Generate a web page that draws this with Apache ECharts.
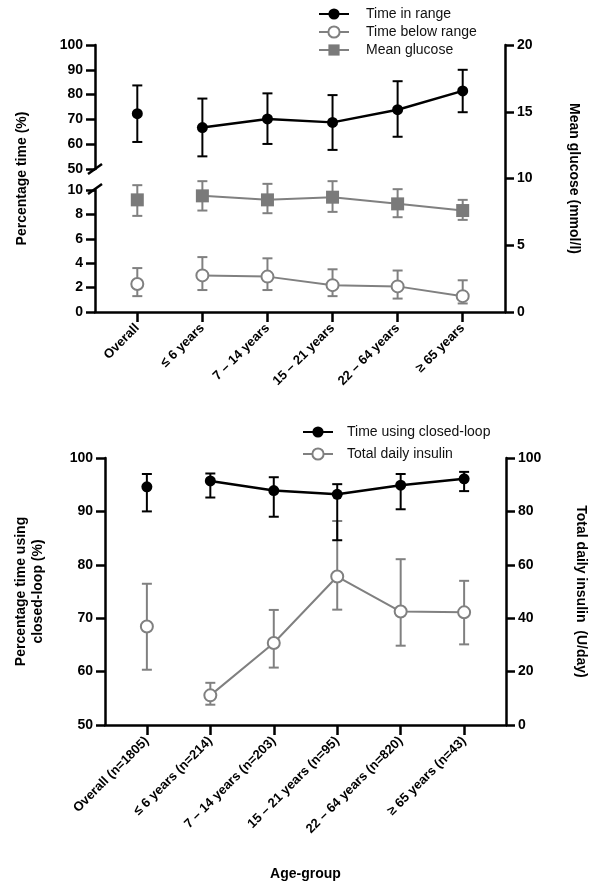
<!DOCTYPE html>
<html>
<head>
<meta charset="utf-8">
<script src="https://cdn.jsdelivr.net/npm/echarts@6/dist/echarts.min.js"></script>
<style>
  html, body { margin: 0; padding: 0; background: #fff; }
  #chart { width: 596px; height: 889px; }
</style>
</head>
<body>
<div id="chart"></div>
<script>
// top panel
var topCats = ['Overall', '≤ 6 years', '7 – 14 years', '15 – 21 years', '22 – 64 years', '≥ 65 years'];
var tirMid = [72.3, 66.7, 70.2, 68.8, 73.9, 81.5];
var tirLow = [60.9, 55.1, 60.1, 57.7, 63.0, 72.9];
var tirHigh = [83.7, 78.4, 80.5, 79.8, 85.4, 90.0];
var tbrMid = [2.3, 3.0, 2.9, 2.2, 2.1, 1.3];
var tbrLow = [1.3, 1.8, 1.8, 1.3, 1.1, 0.7];
var tbrHigh = [3.6, 4.5, 4.4, 3.5, 3.4, 2.6];
var glucMid = [8.4, 8.7, 8.4, 8.6, 8.1, 7.6];
var glucLow = [7.2, 7.6, 7.4, 7.5, 7.1, 6.9];
var glucHigh = [9.5, 9.8, 9.6, 9.8, 9.2, 8.4];

// bottom panel
var bottomCats = ['Overall (n=1805)', '≤ 6 years (n=214)', '7 – 14 years (n=203)', '15 – 21 years (n=95)', '22 – 64 years (n=820)', '≥ 65 years (n=43)'];
var clMid = [94.6, 95.7, 93.9, 93.2, 94.9, 96.1];
var clLow = [90.0, 92.6, 89.0, 84.6, 90.4, 93.8];
var clHigh = [97.0, 97.1, 96.4, 95.1, 97.0, 97.4];
var tdiMid = [36.9, 11.1, 30.7, 55.6, 42.5, 42.2];
var tdiLow = [20.7, 7.6, 21.5, 43.2, 29.7, 30.2];
var tdiHigh = [52.9, 15.8, 43.1, 76.4, 62.1, 54.0];

var FONT = '"Liberation Sans", Arial, sans-serif';
var BLACK = '#000';
var GREY = '#808080';
var catIdx = [0, 1, 2, 3, 4, 5];

var myChart = echarts.init(document.getElementById('chart'));

function pts(arr, from, to) {
    var out = [];
    for (var i = from; i <= to; i++) out.push([i, arr[i]]);
    return out;
}
function bars(lo, hi) {
    return lo.map(function (v, i) { return [i, v, hi[i]]; });
}
function errBar(params, api) {
    var x = api.value(0);
    var p1 = api.coord([x, api.value(2)]);
    var p2 = api.coord([x, api.value(1)]);
    var w = 5;
    var st = { stroke: api.visual('color'), lineWidth: 2 };
    return {
        type: 'group',
        children: [
            { type: 'line', shape: { x1: p1[0], y1: p1[1], x2: p2[0], y2: p2[1] }, style: st },
            { type: 'line', shape: { x1: p1[0] - w, y1: p1[1], x2: p1[0] + w, y2: p1[1] }, style: st },
            { type: 'line', shape: { x1: p2[0] - w, y1: p2[1], x2: p2[0] + w, y2: p2[1] }, style: st }
        ]
    };
}

var axisLine = { show: true, onZero: false, lineStyle: { color: BLACK, width: 2.5 } };
var axisTick = { show: true, length: 9, lineStyle: { color: BLACK, width: 2.5 } };
var tickLabel = { color: BLACK, fontWeight: 'bold', fontSize: 14, fontFamily: FONT, margin: 12 };
var nameStyle = { color: BLACK, fontWeight: 'bold', fontSize: 14, fontFamily: FONT };

function hiddenX(grid, min, max) {
    return { type: 'value', gridIndex: grid, min: min, max: max, show: false, splitLine: { show: false } };
}
function catX(grid, min, max, cats, extra) {
    var ax = {
        type: 'value', gridIndex: grid, min: min, max: max,
        axisLine: axisLine,
        axisTick: { show: true, length: 10, customValues: catIdx, lineStyle: { color: BLACK, width: 2.5 } },
        axisLabel: {
            customValues: catIdx, rotate: 45, margin: 14,
            color: BLACK, fontWeight: 'bold', fontSize: 13, fontFamily: FONT,
            formatter: function (v) { return cats[Math.round(v)]; }
        },
        splitLine: { show: false }
    };
    for (var k in extra) ax[k] = extra[k];
    return ax;
}

function lineSeries(name, x, y, data, opt) {
    return {
        name: name, type: 'line', xAxisIndex: x, yAxisIndex: y, data: data,
        showSymbol: true, symbol: opt.symbol, symbolSize: opt.size,
        itemStyle: { color: opt.fill, borderColor: opt.color, borderWidth: opt.border || 0 },
        lineStyle: { color: opt.color, width: opt.width },
        z: 5, emphasis: { disabled: true }, animation: false
    };
}
function barSeries(x, y, lo, hi, color, z) {
    return {
        type: 'custom', xAxisIndex: x, yAxisIndex: y, data: bars(lo, hi),
        encode: { x: 0, y: [1, 2] }, renderItem: errBar,
        itemStyle: { color: color }, z: z, silent: true, animation: false
    };
}

var tirOpt = { symbol: 'circle', size: 11, fill: BLACK, color: BLACK, width: 2.5 };
var tbrOpt = { symbol: 'circle', size: 12, fill: '#fff', color: GREY, border: 2, width: 2 };
var glucOpt = { symbol: 'rect', size: 13, fill: '#7a7a7a', color: GREY, width: 2 };
var clOpt = { symbol: 'circle', size: 11, fill: BLACK, color: BLACK, width: 2.5 };
var tdiOpt = { symbol: 'circle', size: 12, fill: '#fff', color: GREY, border: 2, width: 2 };

var option = {
    backgroundColor: '#fff',
    animation: false,
    legend: [{
        orient: 'vertical', left: 313, top: 2, itemWidth: 30, itemHeight: 14, itemGap: 4,
        textStyle: { color: '#111', fontSize: 14, fontFamily: FONT, padding: [0, 0, 0, 12] },
        data: ['Time in range', 'Time below range', 'Mean glucose'],
        selectedMode: false
    }, {
        orient: 'vertical', left: 297, top: 420, itemWidth: 30, itemHeight: 14, itemGap: 8,
        textStyle: { color: '#111', fontSize: 14, fontFamily: FONT, padding: [0, 0, 0, 9] },
        data: ['Time using closed-loop', 'Total daily insulin'],
        selectedMode: false
    }],
    grid: [
        { left: 95, right: 91, top: 45, height: 124 },
        { left: 95, right: 91, top: 190, height: 122 },
        { left: 95, right: 91, top: 45, height: 267 },
        { left: 105, right: 90, top: 458, height: 267 }
    ],
    xAxis: [
        hiddenX(0, -0.65, 5.65),
        hiddenX(1, -0.65, 5.65),
        catX(2, -0.65, 5.65, topCats, {}),
        catX(3, -0.66, 5.66, bottomCats, {
            name: 'Age-group', nameLocation: 'middle', nameGap: 142, nameTextStyle: nameStyle
        })
    ],
    yAxis: [
        { type: 'value', gridIndex: 0, position: 'left', min: 50, max: 100, interval: 10,
          axisLine: axisLine, axisTick: axisTick, axisLabel: tickLabel, splitLine: { show: false } },
        { type: 'value', gridIndex: 1, position: 'left', min: 0, max: 10, interval: 2,
          axisLine: axisLine, axisTick: axisTick, axisLabel: tickLabel, splitLine: { show: false } },
        { type: 'value', gridIndex: 2, position: 'right', min: 0, max: 20, interval: 5,
          axisLine: axisLine, axisTick: axisTick, axisLabel: tickLabel, splitLine: { show: false },
          name: 'Mean glucose (mmol/l)', nameLocation: 'middle', nameRotate: -90, nameGap: 62,
          nameTextStyle: nameStyle },
        { type: 'value', gridIndex: 2, position: 'left', min: 0, max: 1,
          axisLine: { show: false }, axisTick: { show: false }, axisLabel: { show: false }, splitLine: { show: false },
          name: 'Percentage time (%)', nameLocation: 'middle', nameGap: 66, nameTextStyle: nameStyle },
        { type: 'value', gridIndex: 3, position: 'left', min: 50, max: 100, interval: 10,
          axisLine: axisLine, axisTick: axisTick, axisLabel: tickLabel, splitLine: { show: false },
          name: 'Percentage time using\nclosed-loop (%)', nameLocation: 'middle', nameGap: 58,
          nameTextStyle: { color: BLACK, fontWeight: 'bold', fontSize: 14, fontFamily: FONT, lineHeight: 17 } },
        { type: 'value', gridIndex: 3, position: 'right', min: 0, max: 100, interval: 20,
          axisLine: axisLine, axisTick: axisTick, axisLabel: tickLabel, splitLine: { show: false },
          name: 'Total daily insulin  (U/day)', nameLocation: 'middle', nameRotate: -90, nameGap: 68,
          nameTextStyle: nameStyle }
    ],
    graphic: [
        // axis break marks
        { type: 'line', shape: { x1: 88, y1: 174, x2: 102, y2: 164 }, style: { stroke: BLACK, lineWidth: 2.5 } },
        { type: 'line', shape: { x1: 88, y1: 194, x2: 102, y2: 184 }, style: { stroke: BLACK, lineWidth: 2.5 } }
    ],
    series: [
        // top: error bars
        barSeries(1, 1, tbrLow, tbrHigh, GREY, 1),
        barSeries(2, 2, glucLow, glucHigh, GREY, 1),
        barSeries(0, 0, tirLow, tirHigh, BLACK, 2),
        lineSeries('Time in range', 0, 0, pts(tirMid, 1, 5), tirOpt),
        lineSeries('Time in range', 0, 0, pts(tirMid, 0, 0), tirOpt),
        lineSeries('Time below range', 1, 1, pts(tbrMid, 1, 5), tbrOpt),
        lineSeries('Time below range', 1, 1, pts(tbrMid, 0, 0), tbrOpt),
        lineSeries('Mean glucose', 2, 2, pts(glucMid, 1, 5), glucOpt),
        lineSeries('Mean glucose', 2, 2, pts(glucMid, 0, 0), glucOpt),
        // bottom
        barSeries(3, 5, tdiLow, tdiHigh, GREY, 1),
        barSeries(3, 4, clLow, clHigh, BLACK, 3),
        lineSeries('Time using closed-loop', 3, 4, pts(clMid, 1, 5), clOpt),
        lineSeries('Time using closed-loop', 3, 4, pts(clMid, 0, 0), clOpt),
        lineSeries('Total daily insulin', 3, 5, pts(tdiMid, 1, 5), tdiOpt),
        lineSeries('Total daily insulin', 3, 5, pts(tdiMid, 0, 0), tdiOpt)
    ]
};

myChart.setOption(option);
</script>
</body>
</html>
